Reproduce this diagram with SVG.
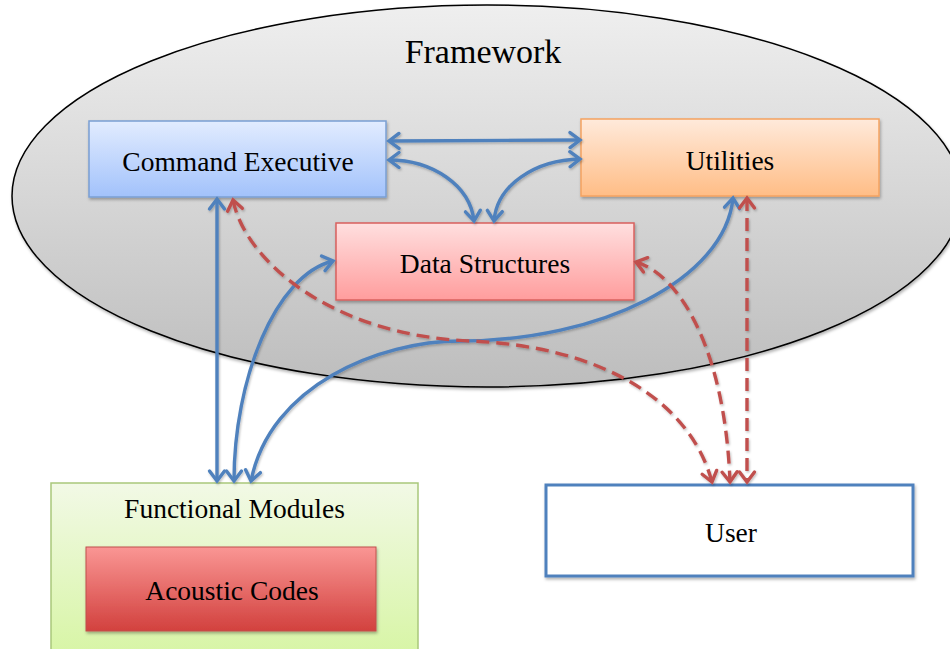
<svg xmlns="http://www.w3.org/2000/svg" width="950" height="649" viewBox="0 0 950 649">
  <style>
    text { font-family: "Liberation Serif", "Times New Roman", serif; fill: #000; text-anchor: middle; }
    .lbl { font-size: 27.5px; }
    .title { font-size: 34px; }
    .blue { fill: none; stroke: #4f81bd; stroke-width: 3.4; marker-start: url(#headB); marker-end: url(#headB); }
    .red { fill: none; stroke: #c0504d; stroke-width: 3.4; stroke-dasharray: 13 7; marker-start: url(#headR); marker-end: url(#headR); }
  </style>
  <defs>
    <linearGradient id="gEllipse" x1="0" y1="0" x2="0" y2="1">
      <stop offset="0" stop-color="#efefef"/>
      <stop offset="1" stop-color="#bdbdbd"/>
    </linearGradient>
    <linearGradient id="gBlue" x1="0" y1="0" x2="0" y2="1">
      <stop offset="0" stop-color="#e2ecff"/>
      <stop offset="1" stop-color="#a2c2fb"/>
    </linearGradient>
    <linearGradient id="gOrange" x1="0" y1="0" x2="0" y2="1">
      <stop offset="0" stop-color="#ffeadb"/>
      <stop offset="1" stop-color="#ffbd86"/>
    </linearGradient>
    <linearGradient id="gPink" x1="0" y1="0" x2="0" y2="1">
      <stop offset="0" stop-color="#ffdfdf"/>
      <stop offset="1" stop-color="#ff9d9d"/>
    </linearGradient>
    <linearGradient id="gGreen" x1="0" y1="0" x2="0" y2="1">
      <stop offset="0" stop-color="#f2f9e6"/>
      <stop offset="1" stop-color="#d6f5a2"/>
    </linearGradient>
    <linearGradient id="gRed" x1="0" y1="0" x2="0" y2="1">
      <stop offset="0" stop-color="#fa9694"/>
      <stop offset="1" stop-color="#d2413e"/>
    </linearGradient>
    <filter id="shadow" x="-10%" y="-10%" width="120%" height="130%">
      <feDropShadow dx="1" dy="2" stdDeviation="1.5" flood-color="#000" flood-opacity="0.3"/>
    </filter>
    <filter id="lineShadow" x="-10%" y="-10%" width="120%" height="120%">
      <feDropShadow dx="1" dy="1.5" stdDeviation="1.2" flood-color="#000" flood-opacity="0.25"/>
    </filter>
    <marker id="headB" viewBox="-13 -10 16 20" markerWidth="16" markerHeight="20" refX="0" refY="0" orient="auto-start-reverse" markerUnits="userSpaceOnUse">
      <path d="M-10,-7.5 L0,0 L-10,7.5" fill="none" stroke="#4f81bd" stroke-width="3.4" stroke-linecap="round" stroke-linejoin="miter"/>
    </marker>
    <marker id="headR" viewBox="-13 -10 16 20" markerWidth="16" markerHeight="20" refX="0" refY="0" orient="auto-start-reverse" markerUnits="userSpaceOnUse">
      <path d="M-10,-7.5 L0,0 L-10,7.5" fill="none" stroke="#c0504d" stroke-width="3.4" stroke-linecap="round" stroke-linejoin="miter"/>
    </marker>
  </defs>

  <rect width="950" height="649" fill="#fff"/>

  <g id="framework">
    <ellipse cx="487" cy="196" rx="475" ry="191" fill="url(#gEllipse)" stroke="#000" stroke-width="1.5" filter="url(#shadow)"/>
    <text class="title" x="483" y="63">Framework</text>
  </g>

  <g id="command-executive">
    <rect x="89" y="121" width="297" height="76" fill="url(#gBlue)" stroke="#7a9fd3" stroke-width="1.5" filter="url(#shadow)"/>
    <text class="lbl" x="238" y="171">Command Executive</text>
  </g>

  <g id="utilities">
    <rect x="581" y="119" width="298" height="77" fill="url(#gOrange)" stroke="#f5a360" stroke-width="1.5" filter="url(#shadow)"/>
    <text class="lbl" x="730" y="170">Utilities</text>
  </g>

  <g id="data-structures">
    <rect x="336" y="223" width="298" height="77" fill="url(#gPink)" stroke="#d9605e" stroke-width="1.5" filter="url(#shadow)"/>
    <text class="lbl" x="485" y="273">Data Structures</text>
  </g>

  <g id="functional-modules">
    <rect x="51" y="483" width="367" height="180" fill="url(#gGreen)" stroke="#a9c77b" stroke-width="1.5"/>
    <text class="lbl" x="234.5" y="518">Functional Modules</text>
    <g id="acoustic-codes">
      <rect x="86" y="547" width="290" height="84" fill="url(#gRed)" stroke="#c0504d" stroke-width="1" filter="url(#shadow)"/>
      <text class="lbl" x="232" y="600">Acoustic Codes</text>
    </g>
  </g>

  <g id="user">
    <rect x="546" y="485" width="367" height="91" fill="#fff" stroke="#4f81bd" stroke-width="3" filter="url(#shadow)"/>
    <text class="lbl" x="731" y="542">User</text>
  </g>

  <g id="connectors" filter="url(#lineShadow)">
    <!-- solid blue links -->
    <path class="blue" d="M389,141 L580,140"/>
    <path class="blue" d="M389,160 C432,160 470,185 474,221"/>
    <path class="blue" d="M580,159 C535,160 497,185 494,221"/>
    <path class="blue" d="M217,199 L217,481"/>
    <path class="blue" d="M333,261 C275,275 234,380 234,481"/>
    <path class="blue" d="M733,198 C725,280 600,341 460,341 C380,341 270,385 251,481"/>
    <!-- dashed red links -->
    <path class="red" d="M233,200 C245,260 330,335 470,341 C600,346 690,400 712,482"/>
    <path class="red" d="M636,262 C680,275 725,350 730,482"/>
    <path class="red" d="M747,198 L747,482"/>
  </g>
</svg>
